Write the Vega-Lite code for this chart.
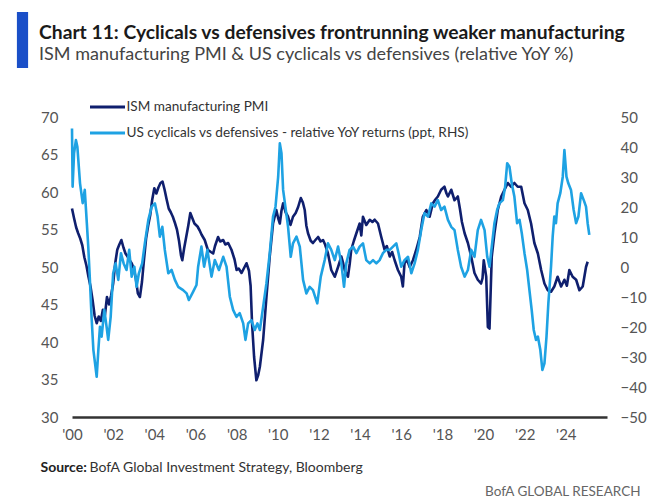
{
  "$schema": "https://vega.github.io/schema/vega-lite/v6.json",
  "width": 535,
  "height": 300,
  "autosize": {"type": "none"},
  "padding": {"left": 72, "top": 117, "right": 53, "bottom": 80},
  "background": "white",
  "config": {"view": {"stroke": null}, "font": "Lato"},
  "title": {
    "text": "Chart 11: Cyclicals vs defensives frontrunning weaker manufacturing",
    "subtitle": "ISM manufacturing PMI & US cyclicals vs defensives (relative YoY %)",
    "anchor": "start",
    "frame": "group",
    "dx": -33,
    "offset": -52,
    "font": "Lato",
    "fontSize": 19.3,
    "fontWeight": "bold",
    "color": "#1a1a1a",
    "subtitleFont": "Lato",
    "subtitleFontSize": 18,
    "subtitleColor": "#444444",
    "subtitlePadding": 3
  },
  "datasets": {
    "pmi": [
      {"year": 2000.0, "value": 57.8}, {"year": 2000.1, "value": 56.5}, {"year": 2000.2, "value": 55.3}, {"year": 2000.3, "value": 54.5}, {"year": 2000.4, "value": 53.8}, {"year": 2000.5, "value": 52.9}, {"year": 2000.6, "value": 51.3}, {"year": 2000.7, "value": 50.2}, {"year": 2000.8, "value": 48.7}, {"year": 2000.9, "value": 47.4},
      {"year": 2001.0, "value": 45.6}, {"year": 2001.1, "value": 43.5}, {"year": 2001.2, "value": 42.5}, {"year": 2001.3, "value": 43.4}, {"year": 2001.4, "value": 42.8}, {"year": 2001.5, "value": 44.3}, {"year": 2001.6, "value": 43.6}, {"year": 2001.7, "value": 46.0}, {"year": 2001.8, "value": 45.0}, {"year": 2001.9, "value": 46.2},
      {"year": 2002.0, "value": 47.8}, {"year": 2002.1, "value": 50.5}, {"year": 2002.2, "value": 52.3}, {"year": 2002.3, "value": 53.0}, {"year": 2002.4, "value": 53.6}, {"year": 2002.5, "value": 52.6}, {"year": 2002.6, "value": 51.8}, {"year": 2002.7, "value": 51.4}, {"year": 2002.8, "value": 50.9}, {"year": 2002.9, "value": 50.5},
      {"year": 2003.0, "value": 49.8}, {"year": 2003.1, "value": 48.5}, {"year": 2003.2, "value": 46.5}, {"year": 2003.3, "value": 46.0}, {"year": 2003.4, "value": 48.0}, {"year": 2003.5, "value": 51.0}, {"year": 2003.6, "value": 53.8}, {"year": 2003.7, "value": 55.5}, {"year": 2003.8, "value": 56.9}, {"year": 2003.9, "value": 59.0},
      {"year": 2004.0, "value": 60.5}, {"year": 2004.1, "value": 59.8}, {"year": 2004.2, "value": 60.6}, {"year": 2004.3, "value": 61.2}, {"year": 2004.4, "value": 61.4}, {"year": 2004.5, "value": 60.3}, {"year": 2004.6, "value": 59.0}, {"year": 2004.7, "value": 57.8}, {"year": 2004.8, "value": 57.3}, {"year": 2004.9, "value": 56.7},
      {"year": 2005.0, "value": 55.9}, {"year": 2005.1, "value": 55.0}, {"year": 2005.2, "value": 53.5}, {"year": 2005.3, "value": 51.5}, {"year": 2005.36, "value": 50.9}, {"year": 2005.45, "value": 52.5}, {"year": 2005.55, "value": 54.0}, {"year": 2005.65, "value": 55.5}, {"year": 2005.75, "value": 57.2}, {"year": 2005.85, "value": 56.5}, {"year": 2005.95, "value": 55.8},
      {"year": 2006.1, "value": 55.4}, {"year": 2006.2, "value": 54.9}, {"year": 2006.3, "value": 54.3}, {"year": 2006.45, "value": 53.6}, {"year": 2006.6, "value": 52.3}, {"year": 2006.75, "value": 52.0}, {"year": 2006.86, "value": 51.8}, {"year": 2006.95, "value": 52.8},
      {"year": 2007.1, "value": 54.0}, {"year": 2007.2, "value": 53.4}, {"year": 2007.35, "value": 53.6}, {"year": 2007.45, "value": 53.0}, {"year": 2007.59, "value": 53.2}, {"year": 2007.75, "value": 52.3}, {"year": 2007.9, "value": 51.0},
      {"year": 2008.0, "value": 49.6}, {"year": 2008.1, "value": 49.8}, {"year": 2008.24, "value": 49.2}, {"year": 2008.35, "value": 49.8}, {"year": 2008.48, "value": 50.5}, {"year": 2008.6, "value": 49.5}, {"year": 2008.68, "value": 47.5}, {"year": 2008.75, "value": 42.5}, {"year": 2008.85, "value": 38.0}, {"year": 2008.96, "value": 34.9},
      {"year": 2009.05, "value": 35.6}, {"year": 2009.13, "value": 36.7}, {"year": 2009.29, "value": 40.3}, {"year": 2009.45, "value": 46.0}, {"year": 2009.61, "value": 51.4}, {"year": 2009.77, "value": 55.8}, {"year": 2009.93, "value": 57.6},
      {"year": 2010.02, "value": 56.5}, {"year": 2010.1, "value": 55.8}, {"year": 2010.18, "value": 57.5}, {"year": 2010.26, "value": 58.5}, {"year": 2010.38, "value": 57.3}, {"year": 2010.5, "value": 56.7}, {"year": 2010.62, "value": 55.6}, {"year": 2010.74, "value": 56.7}, {"year": 2010.87, "value": 57.2}, {"year": 2010.99, "value": 58.0},
      {"year": 2011.12, "value": 59.2}, {"year": 2011.22, "value": 58.6}, {"year": 2011.31, "value": 57.6}, {"year": 2011.39, "value": 55.5}, {"year": 2011.47, "value": 54.5}, {"year": 2011.6, "value": 53.5}, {"year": 2011.71, "value": 53.2}, {"year": 2011.83, "value": 53.6}, {"year": 2011.96, "value": 54.0},
      {"year": 2012.08, "value": 53.4}, {"year": 2012.2, "value": 53.6}, {"year": 2012.3, "value": 53.0}, {"year": 2012.44, "value": 51.8}, {"year": 2012.6, "value": 49.6}, {"year": 2012.77, "value": 48.7}, {"year": 2012.93, "value": 50.0},
      {"year": 2013.09, "value": 51.4}, {"year": 2013.17, "value": 50.6}, {"year": 2013.25, "value": 49.6}, {"year": 2013.41, "value": 48.7}, {"year": 2013.5, "value": 50.5}, {"year": 2013.57, "value": 52.3}, {"year": 2013.7, "value": 53.5}, {"year": 2013.82, "value": 54.5}, {"year": 2013.98, "value": 55.8},
      {"year": 2014.06, "value": 54.2}, {"year": 2014.14, "value": 56.7}, {"year": 2014.3, "value": 55.6}, {"year": 2014.47, "value": 56.3}, {"year": 2014.6, "value": 56.0}, {"year": 2014.71, "value": 56.3}, {"year": 2014.87, "value": 55.8},
      {"year": 2015.03, "value": 54.0}, {"year": 2015.19, "value": 52.3}, {"year": 2015.3, "value": 52.8}, {"year": 2015.44, "value": 51.4}, {"year": 2015.56, "value": 52.0}, {"year": 2015.68, "value": 50.9}, {"year": 2015.84, "value": 49.6},
      {"year": 2016.0, "value": 48.7}, {"year": 2016.08, "value": 47.4}, {"year": 2016.16, "value": 50.5}, {"year": 2016.28, "value": 51.0}, {"year": 2016.41, "value": 50.0}, {"year": 2016.57, "value": 50.9}, {"year": 2016.73, "value": 52.3}, {"year": 2016.9, "value": 54.0},
      {"year": 2017.05, "value": 56.7}, {"year": 2017.22, "value": 57.6}, {"year": 2017.38, "value": 56.7}, {"year": 2017.54, "value": 58.5}, {"year": 2017.66, "value": 59.0}, {"year": 2017.78, "value": 59.4}, {"year": 2017.94, "value": 60.3},
      {"year": 2018.1, "value": 60.7}, {"year": 2018.2, "value": 59.8}, {"year": 2018.27, "value": 59.4}, {"year": 2018.43, "value": 60.3}, {"year": 2018.59, "value": 58.9}, {"year": 2018.75, "value": 59.4}, {"year": 2018.85, "value": 57.8}, {"year": 2018.95, "value": 56.0},
      {"year": 2019.08, "value": 54.5}, {"year": 2019.24, "value": 53.2}, {"year": 2019.4, "value": 51.4}, {"year": 2019.56, "value": 49.2}, {"year": 2019.72, "value": 48.3}, {"year": 2019.88, "value": 47.8}, {"year": 2019.95, "value": 48.5},
      {"year": 2020.01, "value": 50.9}, {"year": 2020.13, "value": 48.7}, {"year": 2020.21, "value": 42.0}, {"year": 2020.29, "value": 41.8}, {"year": 2020.4, "value": 51.4}, {"year": 2020.53, "value": 54.5}, {"year": 2020.69, "value": 57.6}, {"year": 2020.86, "value": 59.4},
      {"year": 2021.02, "value": 60.3}, {"year": 2021.18, "value": 61.2}, {"year": 2021.34, "value": 60.7}, {"year": 2021.5, "value": 61.2}, {"year": 2021.66, "value": 60.7}, {"year": 2021.83, "value": 60.7}, {"year": 2021.99, "value": 58.5},
      {"year": 2022.15, "value": 57.6}, {"year": 2022.31, "value": 55.8}, {"year": 2022.47, "value": 53.2}, {"year": 2022.64, "value": 51.8}, {"year": 2022.8, "value": 49.6}, {"year": 2022.96, "value": 47.8},
      {"year": 2023.12, "value": 46.9}, {"year": 2023.28, "value": 46.7}, {"year": 2023.44, "value": 47.4}, {"year": 2023.6, "value": 48.7}, {"year": 2023.77, "value": 47.4}, {"year": 2023.93, "value": 48.3},
      {"year": 2024.05, "value": 47.5}, {"year": 2024.17, "value": 49.6}, {"year": 2024.33, "value": 48.7}, {"year": 2024.5, "value": 48.3}, {"year": 2024.66, "value": 46.9}, {"year": 2024.82, "value": 47.4}, {"year": 2024.98, "value": 50.0}, {"year": 2025.06, "value": 50.7}
    ],
    "cyc": [
      {"year": 2000.0, "value": 46.2}, {"year": 2000.03, "value": 26.8}, {"year": 2000.1, "value": 37.9}, {"year": 2000.19, "value": 42.3}, {"year": 2000.26, "value": 40.1}, {"year": 2000.39, "value": 27.9}, {"year": 2000.52, "value": 21.3}, {"year": 2000.62, "value": 25.7}, {"year": 2000.72, "value": 14.7}, {"year": 2000.79, "value": 6.8}, {"year": 2000.87, "value": -4.3}, {"year": 2000.95, "value": -16.6},
      {"year": 2001.04, "value": -27.7}, {"year": 2001.12, "value": -32.1}, {"year": 2001.2, "value": -36.6}, {"year": 2001.28, "value": -27.7}, {"year": 2001.36, "value": -19.9}, {"year": 2001.44, "value": -23.2}, {"year": 2001.57, "value": -14.3}, {"year": 2001.68, "value": -19.9}, {"year": 2001.76, "value": -24.3}, {"year": 2001.88, "value": -16.6},
      {"year": 2002.0, "value": -2.1}, {"year": 2002.12, "value": 1.2}, {"year": 2002.25, "value": -4.3}, {"year": 2002.38, "value": 4.6}, {"year": 2002.51, "value": 1.2}, {"year": 2002.65, "value": -1.0}, {"year": 2002.78, "value": 5.7}, {"year": 2002.9, "value": -3.2},
      {"year": 2003.03, "value": 0.1}, {"year": 2003.14, "value": -6.6}, {"year": 2003.25, "value": -2.1}, {"year": 2003.41, "value": 1.2}, {"year": 2003.54, "value": 7.9}, {"year": 2003.71, "value": 15.7}, {"year": 2003.87, "value": 20.1},
      {"year": 2004.03, "value": 21.2}, {"year": 2004.16, "value": 16.8}, {"year": 2004.27, "value": 10.1}, {"year": 2004.39, "value": 13.4}, {"year": 2004.51, "value": 5.7}, {"year": 2004.68, "value": -2.1}, {"year": 2004.84, "value": -1.0},
      {"year": 2005.0, "value": -4.3}, {"year": 2005.16, "value": -6.6}, {"year": 2005.4, "value": -7.7}, {"year": 2005.57, "value": -8.8}, {"year": 2005.68, "value": -11.0}, {"year": 2005.89, "value": -8.2},
      {"year": 2006.05, "value": -6.0}, {"year": 2006.13, "value": 0.1}, {"year": 2006.29, "value": 6.8}, {"year": 2006.42, "value": 0.1}, {"year": 2006.58, "value": 5.7}, {"year": 2006.78, "value": -3.2}, {"year": 2006.94, "value": 2.3},
      {"year": 2007.14, "value": -1.0}, {"year": 2007.35, "value": 3.4}, {"year": 2007.51, "value": 0.1}, {"year": 2007.67, "value": -9.9}, {"year": 2007.83, "value": -14.3}, {"year": 2007.99, "value": -16.6},
      {"year": 2008.15, "value": -15.4}, {"year": 2008.32, "value": -18.8}, {"year": 2008.43, "value": -24.3}, {"year": 2008.56, "value": -18.8}, {"year": 2008.72, "value": -17.7}, {"year": 2008.88, "value": -21.0},
      {"year": 2009.01, "value": -18.8}, {"year": 2009.13, "value": -21.0}, {"year": 2009.29, "value": -13.2}, {"year": 2009.45, "value": -5.4}, {"year": 2009.61, "value": 4.6}, {"year": 2009.77, "value": 16.8}, {"year": 2009.89, "value": 20.1},
      {"year": 2010.02, "value": 30.1}, {"year": 2010.1, "value": 41.2}, {"year": 2010.18, "value": 37.9}, {"year": 2010.26, "value": 25.7}, {"year": 2010.37, "value": 20.1}, {"year": 2010.5, "value": 13.4}, {"year": 2010.63, "value": 3.4}, {"year": 2010.74, "value": 7.9}, {"year": 2010.91, "value": 10.1},
      {"year": 2011.07, "value": 6.8}, {"year": 2011.23, "value": -4.3}, {"year": 2011.39, "value": -8.8}, {"year": 2011.55, "value": -6.6}, {"year": 2011.71, "value": -7.7}, {"year": 2011.92, "value": -12.1},
      {"year": 2012.09, "value": -3.2}, {"year": 2012.28, "value": 2.3}, {"year": 2012.44, "value": 7.9}, {"year": 2012.6, "value": 5.7}, {"year": 2012.77, "value": 2.3}, {"year": 2012.93, "value": 6.8},
      {"year": 2013.09, "value": 1.2}, {"year": 2013.22, "value": -6.6}, {"year": 2013.33, "value": 1.2}, {"year": 2013.49, "value": 5.7}, {"year": 2013.66, "value": 6.8}, {"year": 2013.82, "value": 4.6}, {"year": 2013.98, "value": 6.8},
      {"year": 2014.14, "value": 7.9}, {"year": 2014.3, "value": 2.3}, {"year": 2014.47, "value": 1.2}, {"year": 2014.63, "value": 2.3}, {"year": 2014.79, "value": 1.2}, {"year": 2014.95, "value": 2.3},
      {"year": 2015.11, "value": 4.6}, {"year": 2015.27, "value": 5.7}, {"year": 2015.44, "value": 5.7}, {"year": 2015.6, "value": 6.8}, {"year": 2015.76, "value": 7.9}, {"year": 2015.87, "value": 4.6},
      {"year": 2016.0, "value": 0.1}, {"year": 2016.16, "value": 2.3}, {"year": 2016.33, "value": 3.4}, {"year": 2016.49, "value": -2.1}, {"year": 2016.65, "value": 1.2}, {"year": 2016.81, "value": 5.7}, {"year": 2016.97, "value": 12.3},
      {"year": 2017.13, "value": 17.9}, {"year": 2017.3, "value": 16.8}, {"year": 2017.46, "value": 21.2}, {"year": 2017.62, "value": 20.1}, {"year": 2017.78, "value": 22.3}, {"year": 2017.94, "value": 19.0},
      {"year": 2018.1, "value": 20.1}, {"year": 2018.27, "value": 15.7}, {"year": 2018.43, "value": 13.4}, {"year": 2018.59, "value": 12.3}, {"year": 2018.75, "value": 5.7}, {"year": 2018.91, "value": 0.1},
      {"year": 2019.08, "value": -3.2}, {"year": 2019.24, "value": -1.0}, {"year": 2019.4, "value": 5.7}, {"year": 2019.56, "value": 3.4}, {"year": 2019.72, "value": 12.3}, {"year": 2019.88, "value": 15.7},
      {"year": 2020.05, "value": 12.3}, {"year": 2020.18, "value": 3.4}, {"year": 2020.29, "value": 0.1}, {"year": 2020.4, "value": 6.8}, {"year": 2020.53, "value": 14.6}, {"year": 2020.66, "value": 19.0}, {"year": 2020.77, "value": 21.2}, {"year": 2020.94, "value": 22.3},
      {"year": 2021.05, "value": 26.8}, {"year": 2021.15, "value": 34.6}, {"year": 2021.26, "value": 33.4}, {"year": 2021.37, "value": 27.9}, {"year": 2021.5, "value": 23.4}, {"year": 2021.63, "value": 14.6}, {"year": 2021.75, "value": 15.7}, {"year": 2021.86, "value": 11.2}, {"year": 2021.99, "value": 4.6},
      {"year": 2022.12, "value": -1.0}, {"year": 2022.23, "value": -7.7}, {"year": 2022.34, "value": -14.3}, {"year": 2022.44, "value": -21.0}, {"year": 2022.55, "value": -24.3}, {"year": 2022.64, "value": -23.2}, {"year": 2022.76, "value": -27.7}, {"year": 2022.86, "value": -34.3}, {"year": 2022.96, "value": -32.1},
      {"year": 2023.06, "value": -23.2}, {"year": 2023.15, "value": -12.1}, {"year": 2023.28, "value": 0.1}, {"year": 2023.36, "value": 10.1}, {"year": 2023.44, "value": 16.8}, {"year": 2023.52, "value": 14.6}, {"year": 2023.6, "value": 21.2}, {"year": 2023.73, "value": 24.6}, {"year": 2023.85, "value": 30.1}, {"year": 2023.93, "value": 39.0},
      {"year": 2024.03, "value": 30.1}, {"year": 2024.12, "value": 27.9}, {"year": 2024.25, "value": 25.7}, {"year": 2024.38, "value": 19.0}, {"year": 2024.5, "value": 14.6}, {"year": 2024.61, "value": 16.8}, {"year": 2024.74, "value": 24.6}, {"year": 2024.87, "value": 22.3}, {"year": 2024.98, "value": 20.1},
      {"year": 2025.06, "value": 14.6}, {"year": 2025.14, "value": 10.7}
    ]
  },
  "layer": [
    {
      "data": {"name": "pmi"},
      "mark": {"type": "line", "strokeWidth": 2.6, "strokeJoin": "round"},
      "encoding": {
        "x": {
          "field": "year", "type": "quantitative",
          "scale": {"domain": [2000, 2026], "nice": false, "zero": false},
          "axis": {
            "values": [2000, 2002, 2004, 2006, 2008, 2010, 2012, 2014, 2016, 2018, 2020, 2022, 2024],
            "labelExpr": "\"'\" + substring(toString(datum.value), 2, 4)",
            "grid": false, "ticks": false, "domainColor": "#333333", "domainWidth": 2.5,
            "labelPadding": 10, "labelFont": "Lato", "labelFontSize": 15, "labelColor": "#555555", "labelFlush": false,
            "title": "BofA Global Investment Strategy, Bloomberg",
            "titleX": 17, "titleY": 54, "titleAlign": "left", "titleAnchor": "start", "titleBaseline": "alphabetic",
            "titleFont": "Lato", "titleFontWeight": "normal", "titleFontSize": 14, "titleColor": "#333333"
          }
        },
        "y": {
          "field": "value", "type": "quantitative",
          "scale": {"domain": [30, 70], "nice": false, "zero": false},
          "axis": {
            "values": [30, 35, 40, 45, 50, 55, 60, 65, 70],
            "grid": false, "ticks": false, "domain": false,
            "labelPadding": 14, "labelFont": "Lato", "labelFontSize": 15, "labelColor": "#555555",
            "title": "Source:", "titleAngle": 0, "titleX": -32, "titleY": 354, "titleAlign": "left", "titleAnchor": "start", "titleBaseline": "alphabetic",
            "titleFont": "Lato", "titleFontWeight": "bold", "titleFontSize": 14, "titleColor": "#222222", "titleLimit": 200
          }
        },
        "color": {
          "datum": "ISM manufacturing PMI",
          "scale": {"domain": ["ISM manufacturing PMI", "US cyclicals vs defensives - relative YoY returns (ppt, RHS)"], "range": ["#0f1f6e", "#1ea2e3"]},
          "legend": {
            "orient": "none", "legendX": 16.5, "legendY": -29, "title": null, "padding": 0,
            "symbolType": "stroke", "symbolSize": 1225, "symbolStrokeWidth": 3, "rowPadding": -5,
            "labelFont": "Lato", "labelFontSize": 13.6, "labelColor": "#333333", "labelOffset": 0, "labelLimit": 600
          }
        },
        "opacity": {
          "datum": "bar", "type": "ordinal",
          "scale": {"range": [1, 1]},
          "legend": {
            "orient": "none", "legendX": -77.5, "legendY": -105, "title": null, "padding": 0,
            "labelExpr": "''",
            "symbolType": "M-0.2,-1H0.2V1H-0.2Z", "symbolSize": 3136, "symbolStrokeWidth": 0,
            "symbolFillColor": "#1a4fc8", "symbolStrokeColor": "#1a4fc8",
            "encode": {"symbols": {"update": {"fill": {"value": "#1a4fc8"}, "stroke": {"value": "#1a4fc8"}, "strokeWidth": {"value": 0}, "shape": {"value": "M-0.2,-1H0.2V1H-0.2Z"}, "size": {"value": 3136}, "opacity": {"value": 1}}}}
          }
        }
      }
    },
    {
      "data": {"name": "cyc"},
      "mark": {"type": "line", "strokeWidth": 2.6, "strokeJoin": "round"},
      "encoding": {
        "x": {"field": "year", "type": "quantitative"},
        "y": {
          "field": "value", "type": "quantitative",
          "scale": {"domain": [-50, 50], "nice": false, "zero": false},
          "axis": {
            "orient": "right",
            "values": [-50, -40, -30, -20, -10, 0, 10, 20, 30, 40, 50],
            "grid": false, "ticks": false, "domain": false,
            "labelPadding": 13, "labelFont": "Lato", "labelFontSize": 15, "labelColor": "#555555",
            "title": "BofA GLOBAL RESEARCH", "titleAngle": 0, "titleX": 33, "titleY": 378, "titleAlign": "right", "titleAnchor": "end", "titleBaseline": "alphabetic",
            "titleFont": "Lato", "titleFontWeight": "normal", "titleFontSize": 13.5, "titleColor": "#666666"
          }
        },
        "color": {"datum": "US cyclicals vs defensives - relative YoY returns (ppt, RHS)"}
      }
    }
  ],
  "resolve": {"scale": {"y": "independent"}}
}
